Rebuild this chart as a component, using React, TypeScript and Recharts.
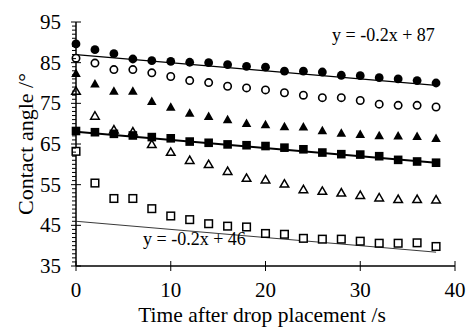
import React from 'react';
import { ScatterChart, Scatter, XAxis, YAxis } from 'recharts';

// time after drop placement (s)
const times = [0, 2, 4, 6, 8, 10, 12, 14, 16, 18, 20, 22, 24, 26, 28, 30, 32, 34, 36, 38];

// contact angles (deg)
const filledCircle = [89.6, 88.2, 87.2, 85.9, 85.5, 85.3, 85.1, 85.0, 84.5, 84.1, 83.9, 82.9, 82.9, 82.7, 81.9, 81.8, 81.3, 81.0, 80.6, 80.0];
const openCircle = [86.1, 84.9, 83.3, 83.3, 82.5, 81.6, 80.6, 80.1, 79.2, 78.8, 78.3, 77.6, 77.0, 76.4, 76.4, 75.7, 74.8, 74.5, 74.5, 74.1];
const filledTriangle = [82.4, 79.8, 78.0, 78.0, 75.5, 74.1, 72.6, 71.8, 71.0, 70.1, 69.8, 69.3, 69.2, 68.3, 67.7, 67.4, 67.1, 67.0, 66.9, 66.4];
const filledSquare = [68.2, 67.9, 67.5, 67.1, 66.7, 66.4, 65.6, 65.3, 64.9, 64.7, 64.5, 64.1, 63.7, 62.9, 62.5, 62.4, 62.0, 61.1, 60.7, 60.4];
const openTriangle = [78.0, 71.9, 68.5, 68.0, 64.9, 63.0, 61.0, 60.0, 58.3, 56.6, 56.2, 55.2, 53.8, 53.4, 53.0, 52.4, 51.8, 51.4, 51.4, 51.3];
const openSquare = [63.2, 55.4, 51.6, 51.6, 49.1, 47.3, 46.4, 45.4, 44.8, 44.6, 43.0, 42.8, 41.8, 41.6, 41.6, 41.1, 40.6, 40.6, 40.7, 39.8];

// linear trendlines, endpoints at t = 0 and t = 38
const trendTimes = [0, 38];
const trendTop = [87, 79.4];
const trendMid = [68, 60.4];
const trendLow = [46, 38.4];

const xTicks = [0, 10, 20, 30, 40];
const yTicks = [35, 45, 55, 65, 75, 85, 95];
const yMinor = Array.from({ length: 61 }, (_, i) => 35 + i);

const FONT = '"Liberation Serif", "Times New Roman", serif';

const pts = (vals: number[]) => times.map((x, i) => ({ x, y: vals[i] }));
const trend = (vals: number[]) => trendTimes.map((x, i) => ({ x, y: vals[i] }));

const FilledCircle = (p: any) => <circle cx={p.cx} cy={p.cy} r={4.4} fill="#000" />;
const OpenCircle = (p: any) => <circle cx={p.cx} cy={p.cy} r={3.7} fill="#fff" stroke="#000" strokeWidth={1.6} />;
const FilledTriangle = (p: any) => (
  <polygon points={`${p.cx},${p.cy - 4.8} ${p.cx - 4.8},${p.cy + 3.7} ${p.cx + 4.8},${p.cy + 3.7}`} fill="#000" />
);
const OpenTriangle = (p: any) => (
  <polygon points={`${p.cx},${p.cy - 4.2} ${p.cx - 4.3},${p.cy + 3.2} ${p.cx + 4.3},${p.cy + 3.2}`} fill="none" stroke="#000" strokeWidth={1.5} />
);
const FilledSquare = (p: any) => <rect x={p.cx - 4.3} y={p.cy - 4.3} width={8.6} height={8.6} fill="#000" />;
const OpenSquare = (p: any) => <rect x={p.cx - 3.8} y={p.cy - 3.8} width={7.6} height={7.6} fill="#fff" stroke="#000" strokeWidth={1.5} />;
const NoDot = () => <g />;

const YTick = (props: any) => {
  const { x, y, payload } = props;
  const major = yTicks.includes(payload.value);
  return (
    <g>
      <line x1={major ? x - 5 : x - 4} x2={major ? x + 5 : x} y1={y} y2={y} stroke="#000" strokeWidth={1} />
      {major && (
        <text x={x - 15} y={y} dy={7} textAnchor="end" fontFamily={FONT} fontSize={21} fill="#000">
          {payload.value}
        </text>
      )}
    </g>
  );
};

const XTick = (props: any) => {
  const { x, y, payload } = props;
  return (
    <g>
      <line x1={x} x2={x} y1={y - 5} y2={y + 5} stroke="#000" strokeWidth={1} />
      <text x={x} y={y + 31} textAnchor="middle" fontFamily={FONT} fontSize={21} fill="#000">
        {payload.value}
      </text>
    </g>
  );
};

export default function App() {
  return (
    <div style={{ position: 'absolute', left: 0, top: 0, width: 475, height: 327, background: '#fff' }}>
      <ScatterChart width={475} height={327} margin={{ top: 22, right: 20, left: 0, bottom: 0 }}>
        <XAxis
          type="number"
          dataKey="x"
          domain={[0, 40]}
          ticks={xTicks}
          interval={0}
          height={61}
          tickSize={0}
          tickMargin={0}
          tickLine={false}
          axisLine={{ stroke: '#000', strokeWidth: 1.5 }}
          tick={<XTick />}
        />
        <YAxis
          type="number"
          dataKey="y"
          domain={[35, 95]}
          ticks={yMinor}
          interval={0}
          width={76}
          tickSize={0}
          tickMargin={0}
          tickLine={false}
          axisLine={{ stroke: '#000', strokeWidth: 1.5 }}
          tick={<YTick />}
        />
        <Scatter data={trend(trendTop)} line={{ stroke: '#000', strokeWidth: 1.3 }} shape={NoDot} isAnimationActive={false} />
        <Scatter data={trend(trendMid)} line={{ stroke: '#000', strokeWidth: 2 }} shape={NoDot} isAnimationActive={false} />
        <Scatter data={trend(trendLow)} line={{ stroke: '#222', strokeWidth: 0.9 }} shape={NoDot} isAnimationActive={false} />
        <Scatter data={pts(filledCircle)} shape={FilledCircle} isAnimationActive={false} />
        <Scatter data={pts(openCircle)} shape={OpenCircle} isAnimationActive={false} />
        <Scatter data={pts(filledTriangle)} shape={FilledTriangle} isAnimationActive={false} />
        <Scatter data={pts(filledSquare)} shape={FilledSquare} isAnimationActive={false} />
        <Scatter data={pts(openTriangle)} shape={OpenTriangle} isAnimationActive={false} />
        <Scatter data={pts(openSquare)} shape={OpenSquare} isAnimationActive={false} />
      </ScatterChart>
      <svg width={475} height={327} style={{ position: 'absolute', left: 0, top: 0, pointerEvents: 'none' }}>
        <text x={332} y={41} fontFamily={FONT} fontSize={18} fill="#000">y = -0.2x + 87</text>
        <text x={143} y={245} fontFamily={FONT} fontSize={18} fill="#000">y = -0.2x + 46</text>
        <text x={262} y={322} textAnchor="middle" fontFamily={FONT} fontSize={21.5} fill="#000">
          Time after drop placement /s
        </text>
        <text x={33} y={144} textAnchor="middle" fontFamily={FONT} fontSize={22} fill="#000" transform="rotate(-90 33 144)">
          Contact angle /°
        </text>
      </svg>
    </div>
  );
}
